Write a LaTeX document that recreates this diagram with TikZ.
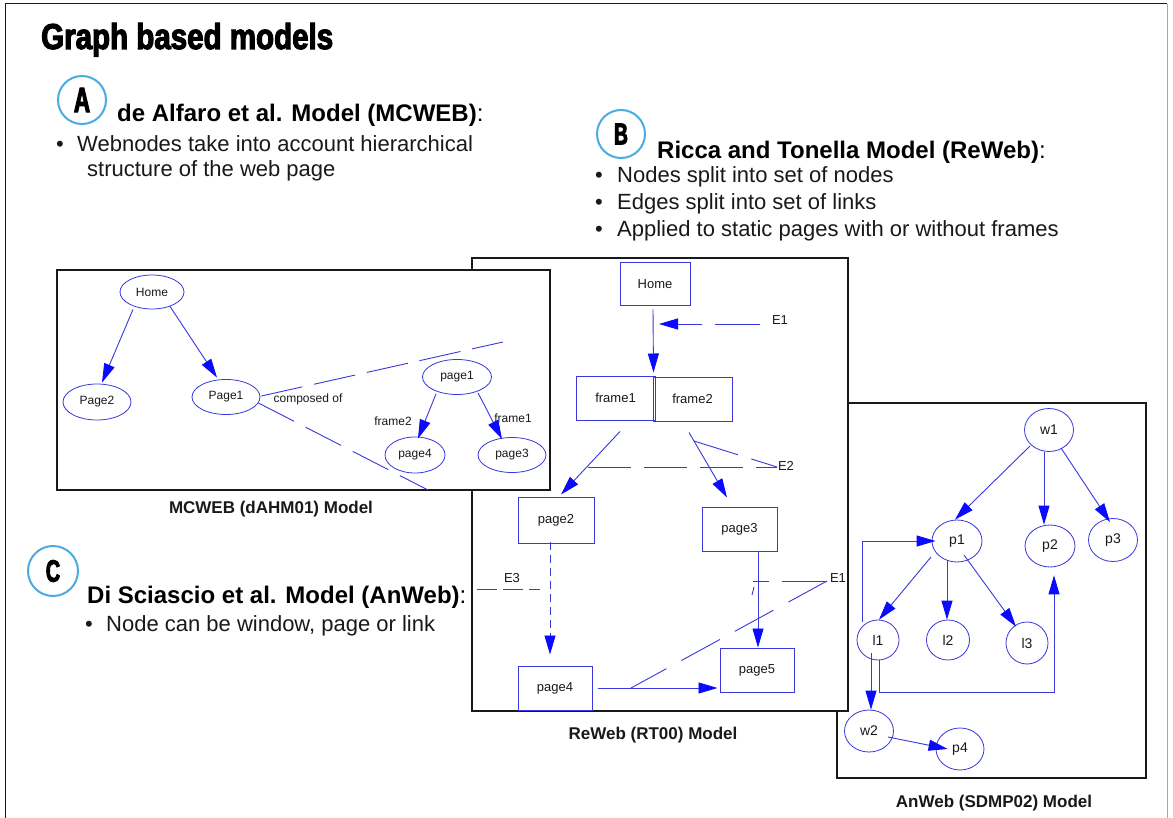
\documentclass[tikz,border=0pt]{standalone}
\usepackage{fontspec}
\setmainfont{Liberation Sans}
\newfontfamily\titlefont[FakeStretch=0.82,FakeBold=3]{Liberation Sans}
\newfontfamily\badgefont[FakeStretch=0.64,FakeBold=3]{Liberation Sans}
\usetikzlibrary{arrows.meta,shapes.geometric}

\definecolor{lineblue}{RGB}{56,56,220}
\definecolor{tipblue}{RGB}{10,10,255}
\definecolor{badgeblue}{RGB}{74,172,224}
\definecolor{ink}{RGB}{25,25,25}

\tikzset{
  ell/.style={ellipse, draw=lineblue, line width=0.8pt, inner sep=0pt, text=ink},
  pbox/.style={rectangle, draw=lineblue, line width=1pt, inner sep=0pt, text=ink},
  link/.style={draw=lineblue, line width=0.9pt, -{Triangle[length=19pt,width=11pt,color=tipblue]}},
  plain/.style={draw=lineblue, line width=0.9pt},
  panel/.style={draw=ink, line width=2.4pt, fill=white},
  caption/.style={inner sep=0pt, font=\fontsize{17}{20}\selectfont\bfseries, text=ink},
  lbl/.style={inner sep=0pt, text=ink},
  badge/.style={circle, draw=badgeblue, line width=2pt, inner sep=0pt, text=black},
  headline/.style={anchor=base west, inner sep=0pt, font=\fontsize{24}{28}\selectfont, text=black},
  bullet/.style={anchor=base west, inner sep=0pt, font=\fontsize{22}{26}\selectfont, text=ink},
}

\begin{document}
\begin{tikzpicture}[x=1pt,y=-1pt]
\useasboundingbox (0,0) rectangle (1173,818);
\fill[white] (0,0) rectangle (1173,818);

% slide edge
\draw[ink, line width=1pt] (5,818) -- (5,4) -- (1167,4);
\draw[gray!70, line width=1pt] (1167,4) -- (1167,818);

% title
\node[anchor=base west, inner sep=0pt, font=\titlefont\bfseries\fontsize{36}{40}\selectfont, text=black] (title) at (41,49) {Graph based models};

% section A text
\node[badge, minimum size=48pt, font=\badgefont\bfseries\fontsize{35}{35}\selectfont] (badgeA) at (82,100) {A};
\node[headline] (headA) at (117,122) {\textbf{de Alfaro et al. Model (MCWEB)}:};
\node[bullet] (bulA1) at (56,152) {\makebox[21pt][l]{•}Webnodes take into account hierarchical};
\node[bullet] (bulA2) at (87,177) {structure of the web page};

% section B text
\node[badge, minimum size=48pt, font=\badgefont\bfseries\fontsize{30}{30}\selectfont] (badgeB) at (621,134) {B};
\node[headline] (headB) at (657,159) {\textbf{Ricca and Tonella Model (ReWeb)}:};
\node[bullet] (bulB1) at (595,183) {\makebox[22pt][l]{•}Nodes split into set of nodes};
\node[bullet] (bulB2) at (595,210) {\makebox[22pt][l]{•}Edges split into set of links};
\node[bullet] (bulB3) at (595,237) {\makebox[22pt][l]{•}Applied to static pages with or without frames};

% section C text
\node[badge, minimum size=50pt, font=\badgefont\bfseries\fontsize{31}{31}\selectfont] (badgeC) at (53,571) {C};
\node[headline] (headC) at (87,603) {\textbf{Di Sciascio et al. Model (AnWeb)}:};
\node[bullet] (bulC1) at (85,631) {\makebox[21pt][l]{•}Node can be window, page or link};

% ---------------- AnWeb panel ----------------
\draw[panel] (837,403) rectangle (1146,778);
\begin{scope}[every node/.append style={font=\fontsize{14}{16}\selectfont}]
\node[ell, minimum width=49pt, minimum height=43pt] (cW1) at (1049,430) {w1};
\node[ell, minimum width=50pt, minimum height=42pt] (cP1) at (957,541) {p1};
\node[ell, minimum width=50pt, minimum height=42pt] (cP2) at (1050,546) {p2};
\node[ell, minimum width=49pt, minimum height=43pt] (cP3) at (1113,540) {p3};
\node[ell, minimum width=42pt, minimum height=40pt] (cL1) at (878,640) {l1};
\node[ell, minimum width=43pt, minimum height=40pt] (cL2) at (948,640) {l2};
\node[ell, minimum width=42pt, minimum height=42pt] (cL3) at (1027,643) {l3};
\node[ell, minimum width=49pt, minimum height=42pt] (cW2) at (869,731) {w2};
\node[ell, minimum width=48pt, minimum height=42pt] (cP4) at (960,749) {p4};
\end{scope}
\draw[link] ([shift={(-19,16)}]cW1.center) -- ([shift={(-2,0)}]cP1.north);
\draw[link] ([shift={(-5,0)}]cW1.south) -- ([shift={(-6,0)}]cP2.north);
\draw[link] ([shift={(12,18)}]cW1.center) -- ([shift={(-3,4)}]cP3.north);
\draw[link] ([shift={(-26,16)}]cP1.center) -- ([shift={(1,0)}]cL1.north);
\draw[link] ([shift={(-10,19)}]cP1.center) -- ([shift={(-1,0)}]cL2.north);
\draw[link] ([shift={(7,14)}]cP1.center) -- ([shift={(-11,5)}]cL3.north);
\draw[link] ([shift={(-7,13)}]cL1.center) -- ([shift={(2,0)}]cW2.north);
\draw[link] ([shift={(19,6)}]cW2.center) -- ([shift={(12,0)}]cP4.west);
\draw[link] ([shift={(-16,-18)}]cL1.center) |- ([shift={(4,0)}]cP1.west);
\draw[link] ([shift={(1,0)}]cL1.south) -- ++(0,32) -| ([shift={(4,8)}]cP2.south);
\node[caption] (capC) at (994,803) {AnWeb (SDMP02) Model};

% ---------------- ReWeb panel ----------------
\draw[panel] (472,258) rectangle (848,711);
\begin{scope}[every node/.append style={font=\fontsize{13}{15}\selectfont}]
\node[pbox, minimum width=70pt, minimum height=43pt] (bHome) at (655,284.5) {Home};
\node[pbox, minimum width=79pt, minimum height=44pt] (bF1) at (615.5,398) {frame1};
\node[pbox, minimum width=79pt, minimum height=44pt] (bF2) at (692.5,399) {frame2};
\node[pbox, minimum width=76pt, minimum height=46pt] (bP2) at (556,520) {page2};
\node[pbox, minimum width=75pt, minimum height=44pt] (bP3) at (739.5,529) {page3};
\node[pbox, minimum width=74pt, minimum height=44pt] (bP4) at (555,688) {page4};
\node[pbox, minimum width=74pt, minimum height=44pt] (bP5) at (757,670) {page5};
\node[lbl] (bE1) at (780,320) {E1};
\node[lbl] (bE2) at (786,466) {E2};
\node[lbl] (bE3) at (512,578) {E3};
\node[lbl] (bE1b) at (838,578) {E1};
\end{scope}
\draw[link] ([shift={(-2,3)}]bHome.south) -- ([shift={(-2,-3)}]bF1.north east);
\draw[link] ([shift={(4.5,11)}]bF1.south) -- ([shift={(5,-2)}]bP2.north);
\draw[link] ([shift={(-3.5,11)}]bF2.south) -- ([shift={(-12.5,-9)}]bP3.north);
\draw[link, dash pattern=on 8pt off 5pt] ([shift={(-6,-2)}]bP2.south) -- ([shift={(-5,-11)}]bP4.north);
\draw[link] ([shift={(18.5,0)}]bP3.south) -- ([shift={(1,0)}]bP5.north);
\draw[link] ([shift={(5,0)}]bP4.east) -- ([shift={(-2,18)}]bP5.west);
% exceptions E1, E2, E3
\coordinate (bE1tail) at (760,324);
\coordinate (bE1head) at (659,324);
\draw[link, dash pattern=on 45pt off 13pt] (bE1tail) -- (bE1head);
\coordinate (bE2pin) at (777,467);
\coordinate (bE2left) at (588,467);
\coordinate (bE2root) at (694,441);
\draw[plain, dash pattern=on 43pt off 13pt] (bE2left) -- (bE2pin);
\draw[plain, dash pattern=on 46pt off 14pt] (bE2root) -- (bE2pin);
\coordinate (bE3left) at (477,589);
\coordinate (bE3right) at (540,589);
\draw[plain, dash pattern=on 20pt off 6pt] (bE3left) -- (bE3right);
\coordinate (bE1bpin) at (827,581);
\coordinate (bE1bleft) at (753,581);
\coordinate (bE1bfoot) at (631,688);
\draw[plain, dash pattern=on 45pt off 13pt] (bE1bpin) -- (bE1bleft);
\draw[plain, dash pattern=on 44pt off 17pt] (bE1bpin) -- (bE1bfoot);
\draw[plain] (754,587) -- (752,595);
\node[caption] (capB) at (653,735) {ReWeb (RT00) Model};

% ---------------- MCWEB panel ----------------
\draw[panel] (57,270) rectangle (550,490);
\begin{scope}[every node/.append style={font=\fontsize{12}{14}\selectfont}]
\node[ell, minimum width=64pt, minimum height=34pt] (aHome) at (152,292) {Home};
\node[ell, minimum width=68pt, minimum height=36pt] (aP2) at (97,402) {Page2};
\node[ell, minimum width=68pt, minimum height=35pt] (aP1) at (226,397) {Page1};
\node[ell, minimum width=69pt, minimum height=35pt] (ap1) at (457,377) {page1};
\node[ell, minimum width=60pt, minimum height=36pt] (ap4) at (415,455) {page4};
\node[ell, minimum width=68pt, minimum height=35pt] (ap3) at (512,455) {page3};
\node[lbl] (aComp) at (308,399) {composed of};
\node[lbl] (aFr2) at (393,421) {frame2};
\node[lbl] (aFr1) at (513,418) {frame1};
\end{scope}
\draw[link] ([shift={(-19,0)}]aHome.south) -- ([shift={(5,-1)}]aP2.north);
\draw[link] ([shift={(18,-3)}]aHome.south) -- ([shift={(-9,-1.5)}]aP1.north);
\draw[link] ([shift={(-21,-1)}]ap1.south) -- ([shift={(3,2)}]ap4.north);
\draw[link] ([shift={(21,-2)}]ap1.south) -- ([shift={(-10,2)}]ap3.north);
\coordinate (aUpper) at (503,342);
\coordinate (aLower) at (428,490);
\draw[plain, dash pattern=on 42pt off 12pt] ([shift={(1,-1)}]aP1.east) -- (aUpper);
\draw[plain, dash pattern=on 40pt off 13pt] ([shift={(-2,6)}]aP1.east) -- (aLower);
\node[caption] (capA) at (271,509) {MCWEB (dAHM01) Model};
\end{tikzpicture}
\end{document}
